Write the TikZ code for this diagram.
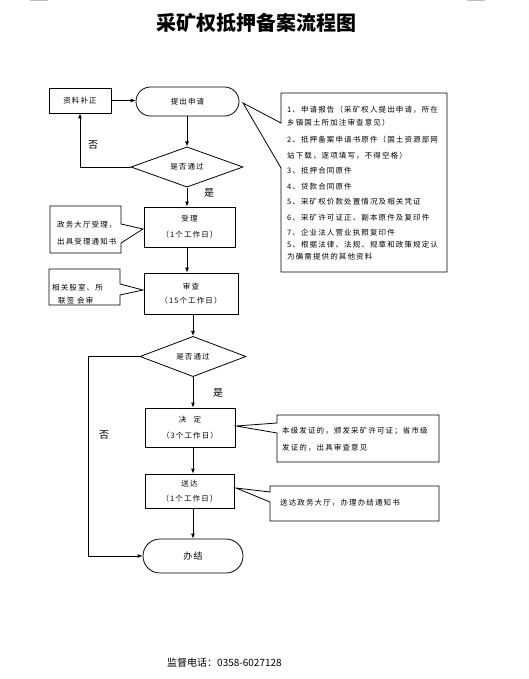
\documentclass[tikz,border=0pt]{standalone}
\usepackage{fontspec}
\setmainfont{Noto Sans CJK SC}
\newfontfamily\cjks{Noto Sans CJK SC}[LetterSpace=15]
\usetikzlibrary{arrows.meta,shapes.geometric}
\begin{document}
\begin{tikzpicture}[x=1pt,y=-1pt,
  every node/.style={font=\cjks\fontsize{7.5}{9}\selectfont, inner sep=0pt},
  proc/.style={draw, line width=0.8pt, align=center},
  term/.style={draw, line width=0.8pt, align=center},
  dec/.style={draw, diamond, line width=0.8pt, inner sep=0pt},
  arr/.style={line width=0.8pt, -{Latex[length=5pt,width=4pt]}},
  callout/.style={draw, line width=0.8pt, line join=miter},
  lbl/.style={font=\fontsize{10}{12}\selectfont},
  tx/.style={anchor=west}]
\useasboundingbox (0,0) rectangle (529,679);
\fill[white] (0,0) rectangle (529,679);
\draw[gray!50, line width=1.2pt] (30,0.5) -- (48,0.5);
\draw[gray!50, line width=1.2pt] (467,0.5) -- (485,0.5);
% title
\node[font=\fontsize{20}{24}\selectfont\bfseries] (title) at (256,23) {采矿权抵押备案流程图};
% main nodes
\node[proc, minimum width=62pt, minimum height=25pt] (buzheng) at (80,100.5) {资料补正};
\node[term, rounded corners=14.5pt, minimum width=103pt, minimum height=29pt] (shenqing) at (187.5,101.5) {提出申请};
\node[dec, minimum width=112pt, minimum height=36pt] (d1) at (187,167) {是否通过};
\node[proc, minimum width=91pt, minimum height=40pt] (shouli) at (189.5,227) {受理\\[7pt]（1个工作日）};
\node[proc, minimum width=94pt, minimum height=41pt] (shencha) at (191,293.5) {审查\\[5pt]（15个工作日）};
\node[dec, minimum width=106pt, minimum height=33pt] (d2) at (193,356.5) {是否通过};
\node[proc, minimum width=90pt, minimum height=39pt] (jueding) at (190,427.5) {决\quad 定\\[7pt]（3个工作日）};
\node[proc, minimum width=89pt, minimum height=34pt] (songda) at (189.5,491) {送达\\[6pt]（1个工作日）};
\node[term, rounded corners=17pt, minimum width=100pt, minimum height=34pt, font=\cjks\fontsize{9}{11}\selectfont] (banjie) at (193,556) {办结};
% connectors
\draw[arr] (buzheng.east) -- (buzheng.east -| shenqing.west);
\draw[arr] (shenqing.south -| d1.north) -- (d1.north);
\draw[arr] (d1.west) -| (buzheng.south);
\node[lbl] (no1) at (93,145) {否};
\node[lbl] (yes1) at (209,193) {是};
\draw[arr] (d1.south) -- (d1.south |- shouli.north);
\draw[arr] (shouli.south -| d1.south) -- (d1.south |- shencha.north);
\draw[arr] (shencha.south -| d2.north) -- (d2.north);
\draw[arr] (d2.south) -- (d2.south |- jueding.north);
\node[lbl] (yes2) at (218,393) {是};
\draw[arr] (jueding.south -| d2.south) -- (d2.south |- songda.north);
\draw[arr] (songda.south -| d2.south) -- (banjie.north);
\coordinate (nox) at (88,0);
\draw[arr] (d2.west) -- (d2.west -| nox) |- (banjie.west);
\node[lbl] (no2) at (104,435) {否};
% callout 1 (materials)
\draw[callout] (281,93) -- (281,123) -- (243,103) -- (281,168) -- (281,272) -- (447,272) -- (447,93) -- cycle;
\node[tx] (m1) at (287,110) {1、申请报告（采矿权人提出申请，所在};
\node[tx] (m1b) at (287,123) {乡镇国土所加注审查意见）};
\node[tx] (m2) at (287,140) {2、抵押备案申请书原件（国土资源部网};
\node[tx] (m2b) at (287,156) {站下载，逐项填写，不得空格）};
\node[tx] (m3) at (287,171) {3、抵押合同原件};
\node[tx] (m4) at (287,187) {4、贷款合同原件};
\node[tx] (m5) at (287,202) {5、采矿权价款处置情况及相关凭证};
\node[tx] (m6) at (287,218) {6、采矿许可证正、副本原件及复印件};
\node[tx] (m7) at (287,233) {7、企业法人营业执照复印件};
\node[tx] (m8) at (287,245) {5、根据法律、法规、规章和政策规定认};
\node[tx] (m8b) at (287,257) {为确需提供的其他资料};
% callout 2
\draw[callout] (121,206) -- (50,206) -- (50,253) -- (121,253) -- (121,243) -- (143,229) -- (121,224) -- cycle;
\node[tx] (c2a) at (57,225) {政务大厅受理，};
\node[tx] (c2b) at (57,242) {出具受理通知书};
% callout 3
\draw[callout] (120,269) -- (49,269) -- (49,305) -- (120,305) -- (120,295) -- (143,290) -- (120,284) -- cycle;
\node[tx] (c3a) at (52,288) {相关股室、所};
\node[tx] (c3b) at (58,301) {联签 会审};
% callout 4
\draw[callout] (277,415) -- (277,423) -- (236,426) -- (277,433) -- (277,462) -- (439,462) -- (439,415) -- cycle;
\node[tx] (c4a) at (282,431) {本级发证的，颁发采矿许可证；省市级};
\node[tx] (c4b) at (282,448) {发证的，出具审查意见};
% callout 5
\draw[callout] (270,486) -- (270,492) -- (236,488) -- (270,502) -- (270,521) -- (439,521) -- (439,486) -- cycle;
\node[tx] (c5a) at (280,503) {送达政务大厅，办理办结通知书};
% footer
\node[anchor=west, font=\fontsize{10}{12}\selectfont] (phone) at (167,663) {监督电话：0358-6027128};
\end{tikzpicture}
\end{document}
